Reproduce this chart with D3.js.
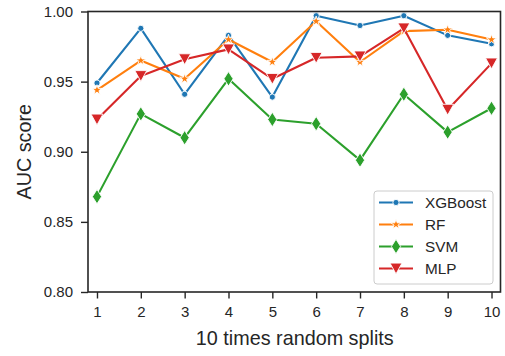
<!DOCTYPE html>
<html>
<head>
<meta charset="utf-8">
<script src="https://cdn.jsdelivr.net/npm/d3@7"></script>
<style>
  html, body { margin: 0; padding: 0; background: #fff; }
  svg { display: block; font-family: "Liberation Sans", Arial, sans-serif; }
</style>
</head>
<body>
<svg id="chart" width="505" height="356"></svg>
<script>
// Ten random train/test splits
const splits = [1, 2, 3, 4, 5, 6, 7, 8, 9, 10];

// AUC per split for each model
const xgboost = [0.949, 0.988, 0.941, 0.983, 0.939, 0.997, 0.990, 0.997, 0.983, 0.977];
const rf      = [0.944, 0.965, 0.952, 0.980, 0.964, 0.993, 0.964, 0.986, 0.987, 0.980];
const svm     = [0.868, 0.927, 0.910, 0.952, 0.923, 0.920, 0.894, 0.941, 0.914, 0.931];
const mlp     = [0.923, 0.954, 0.966, 0.973, 0.952, 0.967, 0.968, 0.988, 0.930, 0.963];

const yTicks = [0.80, 0.85, 0.90, 0.95, 1.00];

const series = [
  { name: "XGBoost", values: xgboost, color: "#1f77b4", marker: "circle" },
  { name: "RF",      values: rf,      color: "#ff7f0e", marker: "star" },
  { name: "SVM",     values: svm,     color: "#2ca02c", marker: "diamond" },
  { name: "MLP",     values: mlp,     color: "#d62728", marker: "triangle" }
];

const margin = { left: 88, top: 11.5, right: 4.5, bottom: 64 };
const W = 505, H = 356;
const svg = d3.select("#chart");

const x = d3.scaleLinear().domain([0.795, 10.205]).range([margin.left, W - margin.right]);
const y = d3.scaleLinear().domain([0.80, 1.00]).range([H - margin.bottom, margin.top]);

const axisColor = "#262626";
const fontFamily = "'Liberation Sans', Arial, sans-serif";

// Marker shapes (paths centred on the origin)
function markerPath(kind) {
  if (kind === "circle") return d3.symbol(d3.symbolCircle, 30)();
  if (kind === "star") return d3.symbol(d3.symbolStar, 32)();
  if (kind === "diamond") {
    const h = 7.2, w = 4.6;
    return `M0,${-h}L${w},0L0,${h}L${-w},0Z`;
  }
  if (kind === "triangle") {
    const h = 5.4, w = 6;
    return `M${-w},${-h}L${w},${-h}L0,${h}Z`;
  }
}

// Series lines and markers
const plot = svg.append("g");
series.forEach(s => {
  const line = d3.line().x((d, i) => x(splits[i])).y(d => y(d));
  plot.append("path")
    .datum(s.values)
    .attr("d", line)
    .attr("fill", "none")
    .attr("stroke", s.color)
    .attr("stroke-width", 2.1)
    .attr("stroke-linejoin", "round");
  plot.selectAll(null)
    .data(s.values)
    .enter().append("path")
    .attr("d", markerPath(s.marker))
    .attr("transform", (d, i) => `translate(${x(splits[i])},${y(d)})`)
    .attr("fill", s.color)
    .attr("stroke", "#fff")
    .attr("stroke-width", 0.9);
});

// Axes
const xAxis = d3.axisBottom(x).tickValues(splits).tickFormat(d3.format("d")).tickSize(6.5).tickPadding(8);
const yAxis = d3.axisLeft(y).tickValues(yTicks).tickFormat(d3.format(".2f")).tickSize(7).tickPadding(8);

const gx = svg.append("g").attr("transform", `translate(0,${H - margin.bottom})`).call(xAxis);
const gy = svg.append("g").attr("transform", `translate(${margin.left},0)`).call(yAxis);
[gx, gy].forEach(g => {
  g.select(".domain").remove();
  g.selectAll(".tick line").attr("stroke", axisColor).attr("stroke-width", 1.4);
  g.selectAll(".tick text").attr("fill", axisColor).attr("font-size", 15)
    .attr("font-family", fontFamily);
});

// Frame around the plotting area
svg.append("rect")
  .attr("x", margin.left).attr("y", margin.top)
  .attr("width", W - margin.right - margin.left)
  .attr("height", H - margin.bottom - margin.top)
  .attr("fill", "none").attr("stroke", axisColor).attr("stroke-width", 1.6);

// Axis titles
svg.append("text")
  .attr("x", (margin.left + W - margin.right) / 2 + 0.5).attr("y", 345)
  .attr("text-anchor", "middle").attr("font-size", 19.8).attr("fill", axisColor)
  .attr("font-family", fontFamily)
  .text("10 times random splits");
svg.append("text")
  .attr("transform", `translate(31,${(margin.top + H - margin.bottom) / 2}) rotate(-90)`)
  .attr("text-anchor", "middle").attr("font-size", 19.8).attr("fill", axisColor)
  .attr("font-family", fontFamily)
  .text("AUC score");

// Legend
const lg = svg.append("g").attr("transform", "translate(374,191)");
lg.append("rect")
  .attr("width", 119).attr("height", 93).attr("rx", 3)
  .attr("fill", "#fff").attr("fill-opacity", 0.8)
  .attr("stroke", "#cccccc").attr("stroke-width", 1);
series.forEach((s, i) => {
  const cy = 11.5 + i * 22;
  lg.append("line")
    .attr("x1", 5).attr("x2", 39).attr("y1", cy).attr("y2", cy)
    .attr("stroke", s.color).attr("stroke-width", 2.1);
  lg.append("path")
    .attr("d", markerPath(s.marker))
    .attr("transform", `translate(22,${cy})`)
    .attr("fill", s.color).attr("stroke", "#fff").attr("stroke-width", 0.9);
  lg.append("text")
    .attr("x", 51).attr("y", cy).attr("dy", "0.36em")
    .attr("font-size", 15.3).attr("fill", axisColor)
    .attr("font-family", fontFamily)
    .text(s.name);
});
</script>
</body>
</html>
